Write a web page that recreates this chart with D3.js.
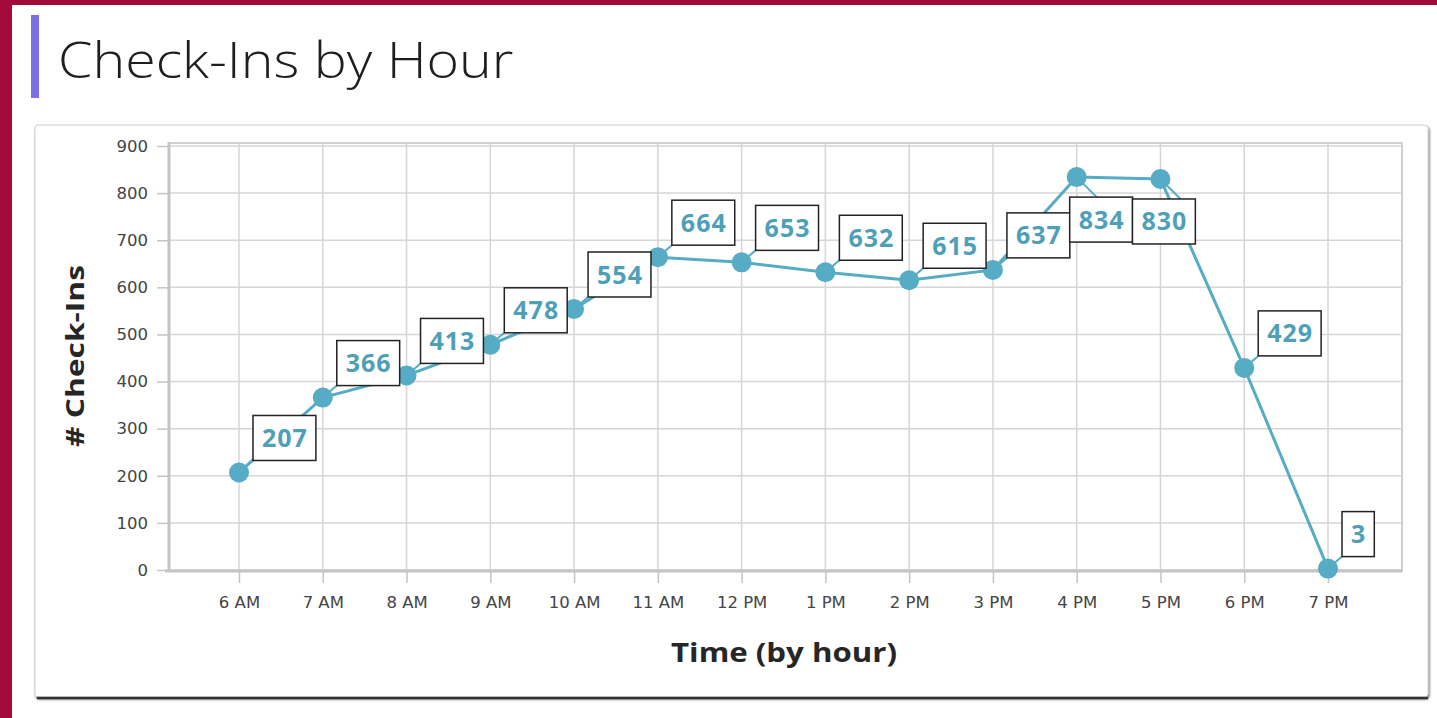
<!DOCTYPE html>
<html>
<head>
<meta charset="utf-8">
<script src="https://cdn.jsdelivr.net/npm/d3@7"></script>
<style>
  body { margin: 0; background: #fff; }
  svg { display: block; }
</style>
</head>
<body>
<svg id="chart" width="1437" height="718"></svg>
<script>
var hours = ["6 AM", "7 AM", "8 AM", "9 AM", "10 AM", "11 AM", "12 PM", "1 PM", "2 PM", "3 PM", "4 PM", "5 PM", "6 PM", "7 PM"];
var checkIns = [207, 366, 413, 478, 554, 664, 653, 632, 615, 637, 834, 830, 429, 3];
var yTicks = [0, 100, 200, 300, 400, 500, 600, 700, 800, 900];

var svg = d3.select("#chart");
var W = 1437, H = 718;

// page frame
svg.append("rect").attr("width", W).attr("height", H).attr("fill", "#fff");
svg.append("rect").attr("x", 0).attr("y", 0).attr("width", 12).attr("height", H).attr("fill", "#a20c3b");
svg.append("rect").attr("x", 0).attr("y", 0).attr("width", W).attr("height", 5).attr("fill", "#a20c3b");

// heading (screenshot is stretched a bit horizontally, so the text is too)
svg.append("rect").attr("x", 31).attr("y", 15).attr("width", 8).attr("height", 83).attr("fill", "#7d6ee9");
svg.append("text")
  .attr("transform", "translate(58,78) scale(1.11,1)")
  .attr("font-family", "'Open Sans', sans-serif")
  .attr("font-weight", 300)
  .attr("font-size", 50)
  .attr("fill", "#1e1e1e")
  .text("Check-Ins by Hour");

// card
var defs = svg.append("defs");
var f = defs.append("filter").attr("id", "shadow").attr("x", "-5%").attr("y", "-5%").attr("width", "110%").attr("height", "110%");
f.append("feDropShadow").attr("dx", 1).attr("dy", 2).attr("stdDeviation", 1).attr("flood-color", "#000").attr("flood-opacity", 0.6);

svg.append("rect")
  .attr("x", 35).attr("y", 125).attr("width", 1393).attr("height", 572)
  .attr("rx", 3)
  .attr("fill", "#fff")
  .attr("stroke", "#cfcfcf")
  .attr("stroke-width", 1)
  .attr("filter", "url(#shadow)");
svg.append("line").attr("x1", 37).attr("x2", 1428).attr("y1", 698).attr("y2", 698)
  .attr("stroke", "#333").attr("stroke-width", 2.5);

// plot area
var plot = { left: 169, right: 1402, top: 143, bottom: 571 };

var x = d3.scalePoint()
  .domain(hours)
  .range([239, 1328]);

var y = d3.scaleLinear()
  .domain([0, 900])
  .range([570, 146]);

var g = svg.append("g");

// gridlines
g.selectAll(".hgrid").data(yTicks).enter().append("line")
  .attr("class", "hgrid")
  .attr("x1", plot.left).attr("x2", plot.right)
  .attr("y1", function(d) { return y(d); }).attr("y2", function(d) { return y(d); })
  .attr("stroke", "#d6d6d6").attr("stroke-width", 1.5);

g.selectAll(".vgrid").data(hours).enter().append("line")
  .attr("class", "vgrid")
  .attr("x1", function(d) { return x(d); }).attr("x2", function(d) { return x(d); })
  .attr("y1", plot.top).attr("y2", plot.bottom)
  .attr("stroke", "#d6d6d6").attr("stroke-width", 1.5);

// frame of plot
g.append("rect")
  .attr("x", plot.left).attr("y", plot.top)
  .attr("width", plot.right - plot.left).attr("height", plot.bottom - plot.top)
  .attr("fill", "none").attr("stroke", "#d0d0d0").attr("stroke-width", 2);
g.append("line").attr("x1", plot.left).attr("x2", plot.left).attr("y1", plot.top - 1).attr("y2", plot.bottom + 1)
  .attr("stroke", "#c4c4c4").attr("stroke-width", 3);
g.append("line").attr("x1", plot.left - 4).attr("x2", plot.right).attr("y1", plot.bottom).attr("y2", plot.bottom)
  .attr("stroke", "#c4c4c4").attr("stroke-width", 3);

// axes
var tickFont = "'DejaVu Sans', sans-serif";
var yAxis = d3.axisLeft(y).tickValues(yTicks).tickSize(12).tickPadding(9);
var yg = svg.append("g").attr("transform", "translate(" + plot.left + ",0)").call(yAxis);
yg.select(".domain").remove();
yg.selectAll(".tick line").attr("stroke", "#c4c4c4").attr("stroke-width", 1.5);
yg.selectAll(".tick text")
  .attr("font-family", tickFont)
  .attr("font-size", 16.5)
  .attr("fill", "#444");

var xAxis = d3.axisBottom(x).tickSize(12).tickPadding(13);
var xg = svg.append("g").attr("transform", "translate(0," + plot.bottom + ")").call(xAxis);
xg.select(".domain").remove();
xg.selectAll(".tick line").attr("stroke", "#c4c4c4").attr("stroke-width", 1.5);
xg.selectAll(".tick text")
  .attr("font-family", tickFont)
  .attr("font-size", 16.5)
  .attr("fill", "#444");

// axis titles
svg.append("text")
  .attr("transform", "translate(84,356) rotate(-90) scale(1.27,1)")
  .attr("text-anchor", "middle")
  .attr("font-family", "'Open Sans', sans-serif")
  .attr("font-weight", 700)
  .attr("font-size", 25)
  .attr("fill", "#262626")
  .text("# Check-Ins");

svg.append("text")
  .attr("transform", "translate(784,662) scale(1.2,1)")
  .attr("text-anchor", "middle")
  .attr("font-family", "'Open Sans', sans-serif")
  .attr("font-weight", 700)
  .attr("font-size", 26)
  .attr("fill", "#262626")
  .text("Time (by hour)");

// series
var teal = "#55acc4";
var pts = hours.map(function(h, i) { return { hour: h, value: checkIns[i] }; });

var line = d3.line()
  .x(function(d) { return x(d.hour); })
  .y(function(d) { return y(d.value); });

// label boxes (default: up and right of the point; peak labels tucked below)
var nudge = { "4 PM": [-7, 20], "5 PM": [-28, 20] };
var labelG = svg.append("g");
var leaders = svg.append("g");

pts.forEach(function(d) {
  var px = x(d.hour), py = y(d.value);
  var t = labelG.append("text")
    .attr("font-family", "'Open Sans', sans-serif")
    .attr("font-weight", 700)
    .attr("font-size", 25)
    .attr("letter-spacing", 1)
    .attr("fill", "#4f9fb7")
    .attr("text-anchor", "middle")
    .text(d.value);
  var tw = t.node().getComputedTextLength();
  var bw = tw + 17, bh = 45;
  var left = px + 14, top = py - 12 - bh;
  if (nudge[d.hour]) { left = px + nudge[d.hour][0]; top = py + nudge[d.hour][1]; }
  // leader to nearest corner
  var cx = Math.abs(left - px) < Math.abs(left + bw - px) ? left : left + bw;
  var cy = Math.abs(top - py) < Math.abs(top + bh - py) ? top : top + bh;
  if (nudge[d.hour]) { cx = Math.max(left, Math.min(px + 20, left + bw)); cy = top; }
  leaders.append("line")
    .attr("x1", px).attr("y1", py).attr("x2", cx).attr("y2", cy)
    .attr("stroke", teal).attr("stroke-width", 2);
  labelG.insert("rect", "text")
    .attr("x", left).attr("y", top).attr("width", bw).attr("height", bh)
    .attr("fill", "#fff").attr("stroke", "#222").attr("stroke-width", 1.5);
  t.attr("x", left + bw / 2 + 0.5).attr("y", top + bh / 2 + 9);
});

var series = svg.append("g");
series.append("path")
  .datum(pts)
  .attr("d", line)
  .attr("fill", "none")
  .attr("stroke", teal)
  .attr("stroke-width", 3);
series.selectAll("circle").data(pts).enter().append("circle")
  .attr("cx", function(d) { return x(d.hour); })
  .attr("cy", function(d) { return y(d.value); })
  .attr("r", 10)
  .attr("fill", teal);

// labels drawn over the series
labelG.raise();
</script>
</body>
</html>
